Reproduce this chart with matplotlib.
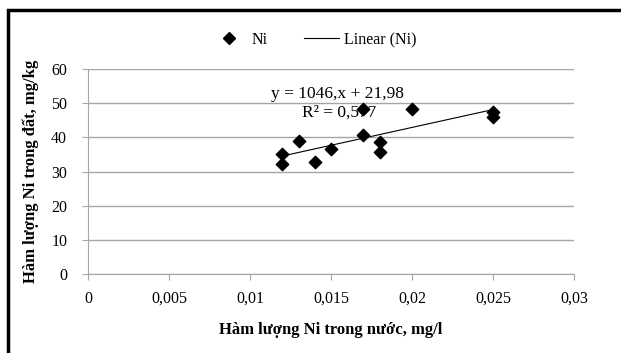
import matplotlib.pyplot as plt
from matplotlib.lines import Line2D
from matplotlib.patches import Rectangle
import numpy as np

# data
ni_water = [0.012, 0.012, 0.013, 0.014, 0.015, 0.017, 0.017, 0.018, 0.018, 0.020, 0.025, 0.025]
ni_soil = [35.0, 32.1, 38.8, 32.8, 36.7, 48.2, 40.8, 38.6, 35.8, 48.4, 47.3, 46.0]
slope, intercept = 1046, 21.98
x_ticks = [0, 0.005, 0.01, 0.015, 0.02, 0.025, 0.03]
x_labels = ['0', '0,005', '0,01', '0,015', '0,02', '0,025', '0,03']
y_ticks = [0, 10, 20, 30, 40, 50, 60]

plt.rcParams['font.family'] = ['Liberation Serif', 'DejaVu Serif']

fig = plt.figure(figsize=(6.21, 3.53), dpi=100)
ax = fig.add_axes([88/621, 1-274/353, 486/621, 205/353])

# outer frame (only top and left edges visible in the picture)
fig.patches.append(Rectangle((8/621, -0.1), 1.2, 1-10/353+0.1, transform=fig.transFigure,
                             fill=False, edgecolor='black', linewidth=2.5))

ax.scatter(ni_water, ni_soil, marker='D', s=40, color='black', zorder=4)
xs = np.array([min(ni_water), max(ni_water)])
ax.plot(xs, slope*xs + intercept, color='black', linewidth=0.8, zorder=3)

ax.text(0.0154, 50.4, 'y = 1046,x + 21,98', ha='center', va='bottom', fontsize=12.5, zorder=2)
ax.text(0.0155, 45.0, 'R² = 0,577', ha='center', va='bottom', fontsize=12.5, zorder=2)

ax.set_xlim(0, 0.03)
ax.set_ylim(0, 60)
ax.set_xticks(x_ticks)
ax.set_xticklabels(x_labels)
ax.set_yticks(y_ticks)
ax.grid(axis='y', color='#a6a6a6', linewidth=1)
ax.set_axisbelow(True)
for s in ['top', 'right']:
    ax.spines[s].set_visible(False)
for s in ['left', 'bottom']:
    ax.spines[s].set_color('#a6a6a6')
ax.tick_params(direction='out', length=4, color='#a6a6a6', labelsize=11.5, pad=8)
ax.tick_params(axis='y', pad=11)

ax.set_xlabel('Hàm lượng Ni trong nước, mg/l', fontsize=12, fontweight='bold', labelpad=11)
ax.set_ylabel('Hàm lượng Ni trong đất, mg/kg', fontsize=12, fontweight='bold', labelpad=9)

handles = [Line2D([], [], marker='D', color='black', linestyle='none', markersize=6),
           Line2D([], [], color='black', linewidth=0.8)]
fig.legend(handles, ['Ni', 'Linear (Ni)'], loc='center', bbox_to_anchor=(314/621, 1-40/353),
           ncol=2, frameon=False, fontsize=11.5, handlelength=2.2, handletextpad=0.3,
           columnspacing=2.3)

fig.savefig('out.png', dpi=100)
